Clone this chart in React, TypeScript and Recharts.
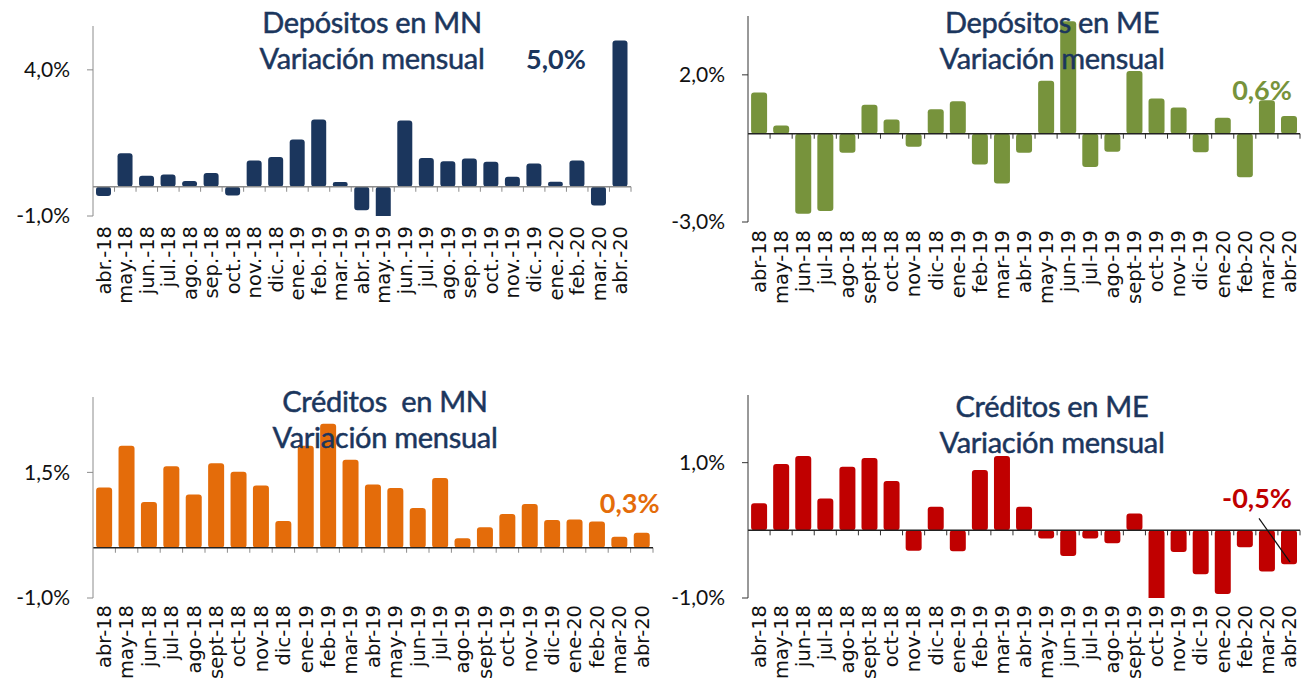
import React from 'react';
import { BarChart, Bar, XAxis, YAxis, ReferenceLine, LabelList } from 'recharts';

const monthsDot = [
  'abr.-18', 'may.-18', 'jun.-18', 'jul.-18', 'ago.-18', 'sep.-18', 'oct.-18', 'nov.-18', 'dic.-18',
  'ene.-19', 'feb.-19', 'mar.-19', 'abr.-19', 'may.-19', 'jun.-19', 'jul.-19', 'ago.-19', 'sep.-19',
  'oct.-19', 'nov.-19', 'dic.-19', 'ene.-20', 'feb.-20', 'mar.-20', 'abr.-20',
];
const months = [
  'abr-18', 'may-18', 'jun-18', 'jul-18', 'ago-18', 'sept-18', 'oct-18', 'nov-18', 'dic-18',
  'ene-19', 'feb-19', 'mar-19', 'abr-19', 'may-19', 'jun-19', 'jul-19', 'ago-19', 'sept-19',
  'oct-19', 'nov-19', 'dic-19', 'ene-20', 'feb-20', 'mar-20', 'abr-20',
];

// variación mensual, %
const depositosMN = [-0.32, 1.15, 0.38, 0.42, 0.2, 0.47, -0.3, 0.9, 1.02, 1.62, 2.3, 0.16, -0.8, -1.1, 2.27, 0.98, 0.87, 0.97, 0.86, 0.34, 0.8, 0.17, 0.9, -0.64, 5.0];
const depositosME = [1.4, 0.28, -2.72, -2.63, -0.65, 0.98, 0.48, -0.44, 0.83, 1.1, -1.05, -1.69, -0.65, 1.8, 3.82, -1.13, -0.61, 2.13, 1.2, 0.89, -0.63, 0.54, -1.48, 1.14, 0.6];
const creditosMN = [1.2, 2.03, 0.91, 1.62, 1.06, 1.68, 1.51, 1.24, 0.53, 2.03, 2.47, 1.75, 1.26, 1.19, 0.79, 1.39, 0.19, 0.41, 0.67, 0.87, 0.55, 0.56, 0.52, 0.22, 0.3];
const creditosME = [0.4, 0.98, 1.1, 0.47, 0.94, 1.07, 0.73, -0.3, 0.35, -0.31, 0.89, 1.1, 0.35, -0.12, -0.38, -0.12, -0.19, 0.25, -1.05, -0.32, -0.65, -0.94, -0.25, -0.61, -0.5];

const NAVY = '#1B365D';
const FONT = 'Lato, "Noto Sans", sans-serif';

const pct = (v: number) => `${v.toFixed(1).replace('.', ',')}%`;

type PanelProps = {
  left: number; top: number; width: number; height: number;
  yWidth: number; mTop: number; mRight: number; xHeight: number;
  labels: string[]; values: number[]; domain: [number, number]; ticks: number[];
  color: string; axisColor: string; zeroColor: string;
  title: [string, string]; titleX: number; titleY: number;
  labelGap: number;
  note: { dx: number; dy: number; leader?: boolean };
};

function Panel(p: PanelProps) {
  const data = p.labels.map((m, i) => ({ m, v: p.values[i] }));
  const last = data.length - 1;

  const XTick = (t: any) => (
    <text
      transform={`translate(${t.x},${t.y + p.labelGap}) rotate(-90)`}
      textAnchor="end" dy="0.35em" fontSize={19.5} fontFamily='"DejaVu Sans", sans-serif' fill="#111"
    >
      {t.payload.value}
    </text>
  );

  const ZeroLine = (s: any) => {
    const n = data.length;
    const step = (s.x2 - s.x1) / n;
    const marks = [];
    for (let i = 1; i <= n; i++) {
      const x = s.x1 + step * i;
      marks.push(<line key={i} x1={x} x2={x} y1={s.y1} y2={s.y1 + 5} stroke={p.axisColor} strokeWidth={1} />);
    }
    return (
      <g>
        {marks}
        <line x1={s.x1} x2={s.x2} y1={s.y1} y2={s.y2} stroke={p.zeroColor} strokeWidth={1.5} />
      </g>
    );
  };

  const Note = (l: any) => {
    if (l.index !== last) return null;
    const cx = l.x + l.width / 2;
    const yTop = Math.min(l.y, l.y + l.height);
    const yBot = Math.max(l.y, l.y + l.height);
    return (
      <g>
        <text x={cx + p.note.dx} y={yTop + p.note.dy} textAnchor="middle" fontSize={27} fontWeight={700}
          fontFamily={FONT} fill={p.color}>
          {pct(l.value)}
        </text>
        {p.note.leader && (
          <line x1={cx - 30} y1={yTop - 12} x2={cx + 1} y2={yBot - 2} stroke="#111" strokeWidth={1.2} />
        )}
      </g>
    );
  };

  return (
    <div style={{ position: 'absolute', left: p.left, top: p.top, width: p.width, height: p.height }}>
      <BarChart width={p.width} height={p.height} data={data}
        margin={{ top: p.mTop, right: p.mRight, left: 0, bottom: 0 }} barCategoryGap="14%">
        <XAxis dataKey="m" interval={0} axisLine={false} tickLine={false} height={p.xHeight} tick={XTick} />
        <YAxis width={p.yWidth} domain={p.domain} ticks={p.ticks} allowDataOverflow
          tickFormatter={pct} tick={{ fontSize: 21, fontFamily: FONT, fill: '#111' }}
          axisLine={{ stroke: p.axisColor }} tickLine={{ stroke: p.axisColor }} tickSize={6} tickMargin={17} />
        <Bar dataKey="v" fill={p.color} radius={3} isAnimationActive={false}>
          <LabelList dataKey="v" content={Note} />
        </Bar>
        <ReferenceLine y={0} shape={ZeroLine} />
      </BarChart>
      <div style={{
        position: 'absolute', left: p.titleX - 200, top: p.titleY, width: 400, textAlign: 'center',
        fontFamily: FONT, fontSize: 29, lineHeight: '36px', color: NAVY, whiteSpace: 'pre',
        WebkitTextStroke: `0.5px ${NAVY}`, letterSpacing: '-0.3px',
      }}>
        {p.title[0]}<br />{p.title[1]}
      </div>
    </div>
  );
}

export default function App() {
  return (
    <div style={{ position: 'absolute', left: 0, top: 0, width: 1302, height: 686, background: '#fff', overflow: 'hidden' }}>
      <Panel left={0} top={0} width={651} height={340} yWidth={93} mTop={26} mRight={20} xHeight={124}
        labels={monthsDot} values={depositosMN} domain={[-1, 5.5]} ticks={[-1, 4]}
        color="#1B365D" axisColor="#8c8c8c" zeroColor="#8c8c8c"
        title={['Depósitos en MN', 'Variación mensual']} titleX={372} titleY={4} labelGap={2}
        note={{ dx: -64, dy: 28 }} />
      <Panel left={650} top={0} width={652} height={340} yWidth={98} mTop={16} mRight={2} xHeight={118}
        labels={months} values={depositosME} domain={[-3, 4]} ticks={[-3, 2]}
        color="#77933C" axisColor="#333" zeroColor="#222"
        title={['Depósitos en ME', 'Variación mensual']} titleX={402} titleY={4} labelGap={0}
        note={{ dx: -27, dy: -16 }} />
      <Panel left={0} top={340} width={660} height={346} yWidth={93} mTop={57} mRight={7} xHeight={88}
        labels={months} values={creditosMN} domain={[-1, 3]} ticks={[-1, 1.5]}
        color="#E46C0A" axisColor="#8c8c8c" zeroColor="#222"
        title={['Créditos  en MN', 'Variación mensual']} titleX={385} titleY={43} labelGap={-1}
        note={{ dx: -12, dy: -20 }} />
      <Panel left={650} top={340} width={652} height={346} yWidth={98} mTop={55} mRight={2} xHeight={88}
        labels={months} values={creditosME} domain={[-1, 2]} ticks={[-1, 1]}
        color="#C00000" axisColor="#333" zeroColor="#222"
        title={['Créditos en ME', 'Variación mensual']} titleX={402} titleY={48} labelGap={-1}
        note={{ dx: -32, dy: -22, leader: true }} />
    </div>
  );
}
